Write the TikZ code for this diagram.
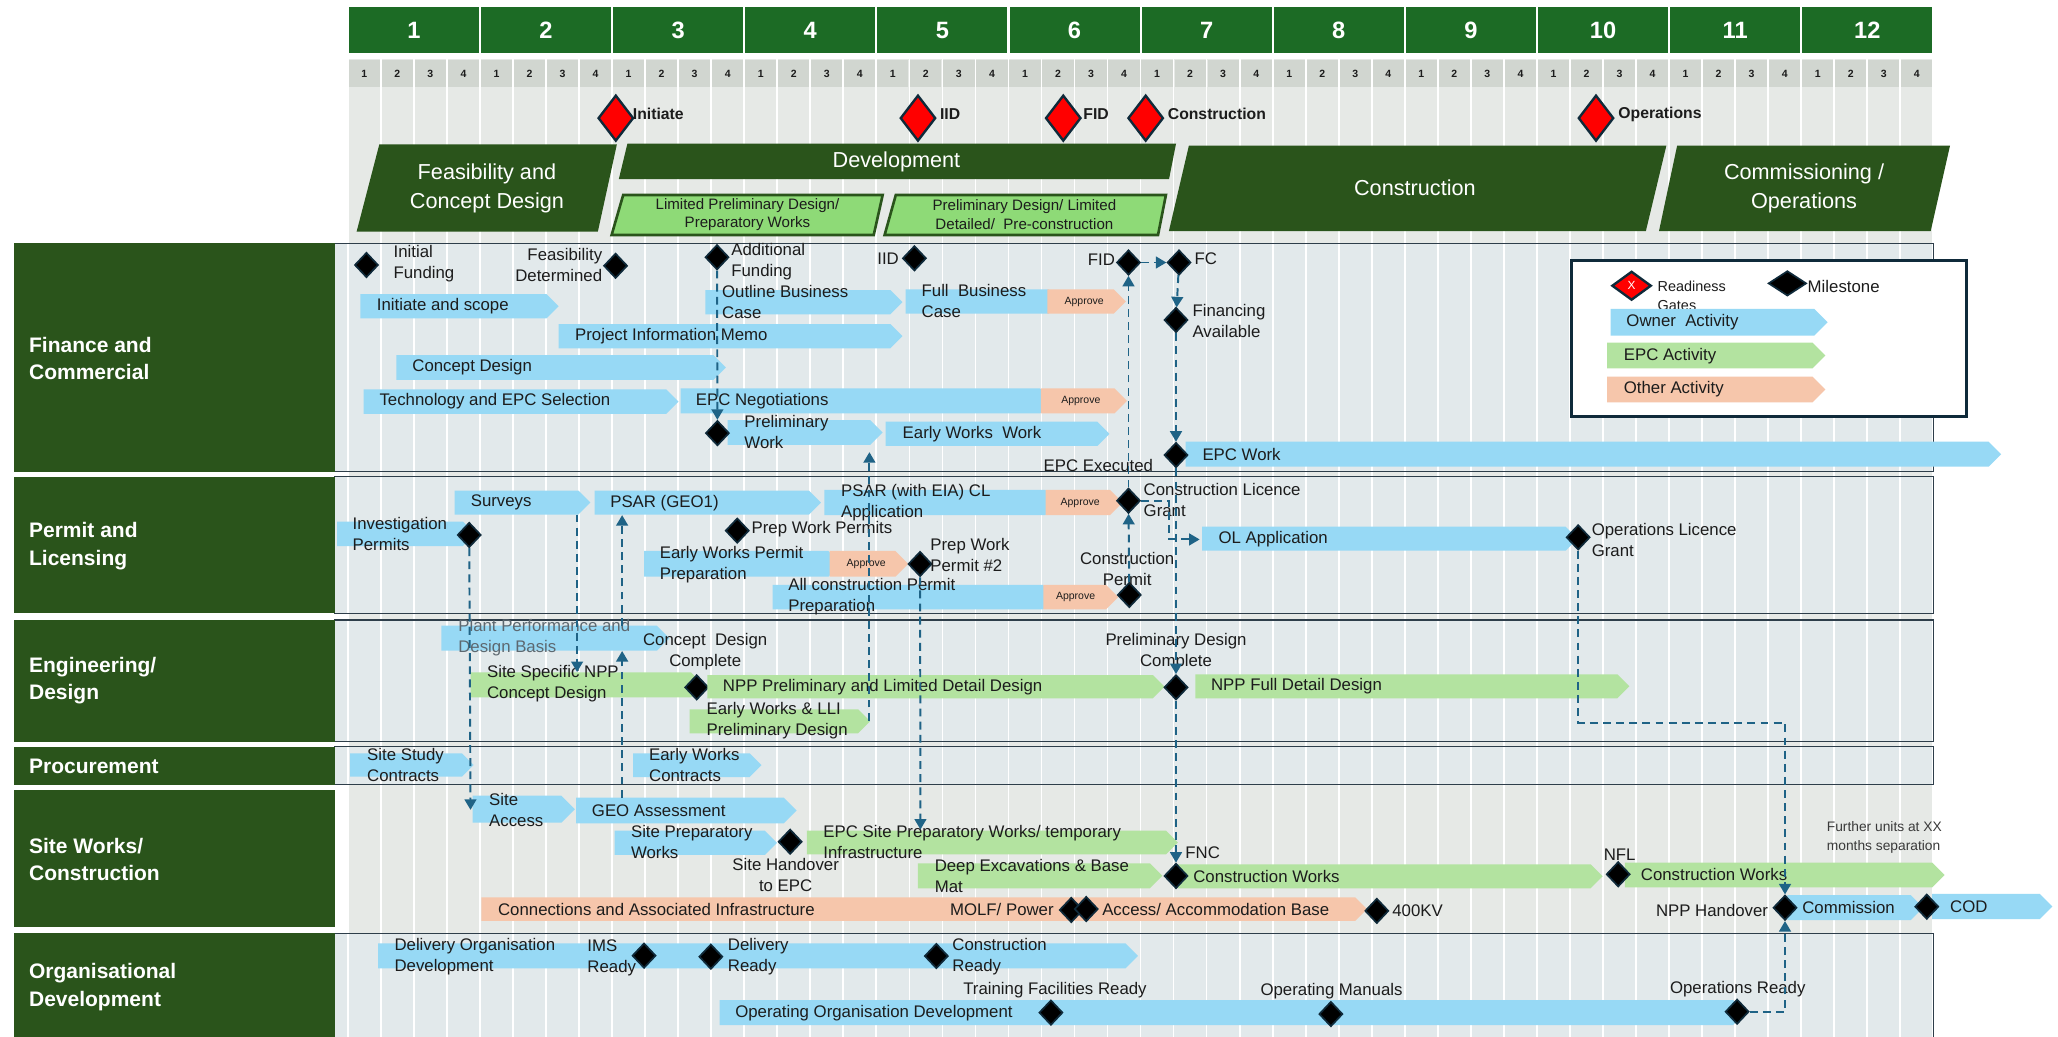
\documentclass[tikz,border=0pt]{standalone}
\usepackage{fontspec}
\setmainfont{Liberation Sans}
\usetikzlibrary{shapes.geometric,arrows.meta}
\definecolor{yeargreen}{HTML}{1C6B25}
\definecolor{phasegreen}{HTML}{2A541B}
\definecolor{subgreen}{HTML}{8EDA77}
\definecolor{qgrey}{HTML}{D1D6D0}
\definecolor{gridbg}{HTML}{E6E9E6}
\definecolor{panelbg}{HTML}{E2E9EB}
\definecolor{panelline}{HTML}{2E3E4A}
\definecolor{own}{HTML}{97D9F5}
\definecolor{epc}{HTML}{B3E3A0}
\definecolor{oth}{HTML}{F6C6AB}
\definecolor{connc}{HTML}{1F6386}
\definecolor{msb}{HTML}{0F2A3A}
\definecolor{txtc}{HTML}{1C1C1C}
\definecolor{greytxt}{HTML}{5D6870}
\definecolor{fugrey}{HTML}{3A3A3A}
\newcommand{\myfs}[2]{\fontsize{#1}{#2}\selectfont}
\newcommand{\actbar}[5]{\fill[#1] (#2,#3) -- ({#4-(#5-#3)/2},#3) -- (#4,{(#3+#5)/2}) -- ({#4-(#5-#3)/2},#5) -- (#2,#5) -- cycle;}
\begin{document}
\begin{tikzpicture}[x=1pt,y=-1pt,
  txt/.style={inner sep=0pt, font=\myfs{12.8}{16}, text=txtc, align=left, anchor=west},
  ctxt/.style={txt, align=center, anchor=center},
  rtxt/.style={txt, align=right, anchor=east},
  appr/.style={inner sep=0pt, font=\myfs{8}{10}, text=txtc},
  ms/.style={diamond, fill=black, draw=msb, line width=1.3pt, inner sep=0pt, minimum width=18pt, minimum height=19pt},
  gate/.style={diamond, fill=red, draw=msb, line width=1.8pt, inner sep=0pt, minimum width=27pt, minimum height=35pt},
  gatelbl/.style={inner sep=0pt, font=\myfs{12}{14}\bfseries, text=txtc, anchor=west},
  conn/.style={draw=connc, line width=1.5pt, dash pattern=on 6pt off 4pt, -{Triangle[length=8pt,width=9pt]}},
  rowlbl/.style={inner sep=0pt, font=\myfs{16}{21}\bfseries, text=white, align=left, anchor=west},
  phtxt/.style={inner sep=0pt, font=\myfs{16.5}{21.5}, text=white, align=center},
  subtxt/.style={inner sep=0pt, font=\myfs{11.5}{14}, text=txtc, align=center}
  ]
\useasboundingbox (0,0) rectangle (1568,790);
\fill[white] (0,0) rectangle (1568,790);
% grid background and panels
\fill[gridbg] (265,45) rectangle (1473,790);
\foreach \a/\b in {185.4/359.4, 363.2/467.3, 472.4/565, 569/598, 711/795} { \fill[panelbg] (255,\a) rectangle (1473,\b); }
\foreach \k in {0,...,48} { \draw[white, line width=1.3pt] ({265+\k*25.1667},45) -- ({265+\k*25.1667},790); }
\foreach \a/\b in {185.4/359.4, 363.2/467.3, 472.4/565, 569/598, 711/795} { \draw[panelline, line width=0.9pt] (255,\a) rectangle (1473,\b); }
% year header
\foreach \i in {1,...,12} {
  \fill[yeargreen] ({265+(\i-1)*100.667+0.8},5) rectangle ({265+\i*100.667-0.8},40.5);
  \node[font=\myfs{18}{20}\bfseries, text=white, inner sep=0pt] (y\i) at ({265+(\i-0.5)*100.667},23) {\i};
}
\foreach \i in {0,...,47} {
  \pgfmathtruncatemacro\qq{mod(\i,4)+1}
  \fill[qgrey] ({265+\i*25.1667+0.7},45.5) rectangle ({265+(\i+1)*25.1667-0.7},66.5);
  \node[font=\myfs{8}{9}\bfseries, text=txtc, inner sep=0pt] (q\i) at ({265+(\i+0.5)*25.1667},56) {\qq};
}
% gates
\node[gate] (gInit) at (469.2,90) {};
\node[gatelbl] (lInit) at (482,87) {Initiate};
\node[gate] (gIID) at (699.4,90) {};
\node[gatelbl] (lIID) at (716,87) {IID};
\node[gate] (gFID) at (810.1,90) {};
\node[gatelbl] (lFID) at (825.3,87) {FID};
\node[gate] (gCon) at (872.9,90) {};
\node[gatelbl] (lCon) at (889.6,87) {Construction};
\node[gate] (gOps) at (1216,90) {};
\node[gatelbl] (lOps) at (1232.9,87) {Operations};
% phases
\fill[phasegreen] (289,110) -- (470,110) -- (455.5,176.5) -- (271.7,176.5) -- cycle;
\node[phtxt] (phFeas) at (371,143.5) {Feasibility and\\Concept Design};
\fill[phasegreen] (478,109.5) -- (896,109.5) -- (890.7,136.4) -- (471.5,136.4) -- cycle;
\node[phtxt] (phDev) at (683,123) {Development};
\filldraw[fill=subgreen, draw=phasegreen, line width=2pt] (474.8,148.6) -- (672.5,148.6) -- (665.7,179) -- (466,179) -- cycle;
\node[subtxt] (phSub1) at (569.5,163.5) {Limited Preliminary Design/\\Preparatory Works};
\filldraw[fill=subgreen, draw=phasegreen, line width=2pt] (682.5,148.6) -- (888.3,148.6) -- (882.3,179) -- (674,179) -- cycle;
\node[subtxt] (phSub2) at (780.5,163.5) {Preliminary Design/ Limited\\Detailed/\ \ Pre-construction};
\fill[phasegreen] (905.8,111) -- (1269.6,111) -- (1254,176) -- (890.6,176) -- cycle;
\node[phtxt] (phCon) at (1078,143) {Construction};
\fill[phasegreen] (1277.8,111) -- (1485.7,111) -- (1471,176) -- (1264,176) -- cycle;
\node[phtxt] (phCom) at (1374.5,143.5) {Commissioning /\\Operations};
% row labels
\fill[phasegreen] (11,185.4) rectangle (255,359.4);
\node[rowlbl] (rFin) at (22,273) {Finance and\\Commercial};
\fill[phasegreen] (11,363.2) rectangle (255,467.3);
\node[rowlbl] (rPer) at (22,416) {Permit and\\Licensing};
\fill[phasegreen] (11,472.4) rectangle (255,565);
\node[rowlbl] (rEng) at (22,518.5) {Engineering/\\Design};
\fill[phasegreen] (11,569) rectangle (255,598);
\node[rowlbl] (rPro) at (22,584) {Procurement};
\fill[phasegreen] (11,602) rectangle (255,706);
\node[rowlbl] (rSite) at (22,654.7) {Site Works/\\Construction};
\fill[phasegreen] (11,711) rectangle (255,795);
\node[rowlbl] (rOrg) at (22,752) {Organisational\\Development};
% ---------------- Finance and Commercial
\actbar{own}{274.5}{224}{425.6}{242.5}
\node[txt] (tIS) at (287,233.3) {Initiate and scope};
\actbar{own}{537.5}{221}{687.6}{239.5}
\node[txt] (tOBC) at (550,230.2) {Outline Business\\Case};
\actbar{own}{690}{220.4}{808}{239}
\actbar{oth}{798}{220.4}{857.8}{239}
\node[txt] (tFBC) at (702,229.7) {Full\ \ Business\\Case};
\node[appr] (aFBC) at (826,229.7) {Approve};
\actbar{own}{425.6}{246.9}{687.6}{265.4}
\node[txt] (tPIM) at (438,256.2) {Project Information Memo};
\actbar{own}{302}{270.5}{553}{289.5}
\node[txt] (tCD) at (314,280) {Concept Design};
\actbar{own}{277}{296.6}{517}{315.4}
\node[txt] (tTES) at (289,306) {Technology and EPC Selection};
\actbar{own}{518.6}{295.9}{802}{315}
\actbar{oth}{793}{295.9}{858.7}{315}
\node[txt] (tEPCN) at (530,305.5) {EPC Negotiations};
\node[appr] (aEPCN) at (823.5,305.5) {Approve};
\actbar{own}{554.4}{320}{672.5}{339}
\node[txt] (tPW) at (567,329.5) {Preliminary\\Work};
\actbar{own}{674.8}{321.3}{845.3}{339.8}
\node[txt] (tEWW) at (687.6,330.5) {Early Works\ \ Work};
\actbar{own}{903.4}{336.5}{1524.7}{355.6}
\node[txt] (tEPCW) at (916,346) {EPC Work};
\node[ms] (mIF) at (279.2,201.9) {};
\node[txt] (lIF) at (299.7,200.6) {Initial\\Funding};
\node[ms] (mFD) at (469,202.5) {};
\node[rtxt] (lFD) at (459,201.9) {Feasibility\\Determined};
\node[ms] (mAF) at (546.3,196) {};
\node[txt] (lAF) at (557,199.7) {Additional\\Funding};
\node[ms] (mIID) at (696.7,196.8) {};
\node[rtxt] (lIID) at (685,196.8) {IID};
\node[ms] (mFID) at (859.8,200) {};
\node[rtxt] (lFID) at (849.7,197.6) {FID};
\node[ms] (mFC) at (898.3,200) {};
\node[txt] (lFC) at (910,196.8) {FC};
\node[ms] (mFA) at (896,243.8) {};
\node[txt] (lFA) at (908.4,244.9) {Financing\\Available};
\node[ms] (mPW) at (546.6,330) {};
\node[ms] (mEPC) at (896,346.7) {};
\node[txt] (lEPC) at (795,354.3) {EPC Executed};
% ---------------- Permit and Licensing
\actbar{own}{256.8}{397.5}{362}{416}
\node[txt] (tIP) at (268.5,406.6) {Investigation\\Permits};
\node[ms] (mIP) at (357.5,407.6) {};
\actbar{own}{346.4}{373.8}{449.8}{392}
\node[txt] (tSv) at (358.5,383) {Surveys};
\actbar{own}{453}{373.8}{625.5}{392}
\node[txt] (tPG) at (464.8,383) {PSAR (GEO1)};
\actbar{own}{628}{373.3}{806}{392.4}
\actbar{oth}{796.7}{373.3}{855.4}{392.4}
\node[txt] (tPSAR) at (640.6,382.6) {PSAR (with EIA) CL\\Application};
\node[appr] (aPSAR) at (823,383.3) {Approve};
\node[ms] (mCLG) at (859.8,381.5) {};
\node[txt] (lCLG) at (871.2,381) {Construction Licence\\Grant};
\node[ms] (mPWP) at (561.7,404.3) {};
\node[txt] (lPWP) at (572.5,403.3) {Prep Work Permits};
\actbar{own}{490.7}{419.8}{641}{439.4}
\actbar{oth}{632}{419.8}{692}{439.4}
\node[txt] (tEWP) at (502.5,430) {Early Works Permit\\Preparation};
\node[appr] (aEWP) at (660,430) {Approve};
\node[ms] (mPW2) at (701,429.7) {};
\node[txt] (lPW2) at (708.7,423.2) {Prep Work\\Permit \#2};
\actbar{own}{588.6}{445.7}{804}{464.2}
\actbar{oth}{795}{445.7}{852}{464.2}
\node[txt] (tACP) at (600.4,454.6) {All construction Permit\\Preparation};
\node[appr] (aACP) at (819.5,454.5) {Approve};
\node[ms] (mCP) at (860.4,453.3) {};
\node[ctxt] (lCP) at (858.8,433.3) {Construction\\Permit};
\actbar{own}{915.8}{401.3}{1202}{419.6}
\node[txt] (tOL) at (928.2,410.5) {OL Application};
\node[ms] (mOLG) at (1202.4,409.4) {};
\node[txt] (lOLG) at (1212.6,411.2) {Operations Licence\\Grant};
% ---------------- Engineering / Design
\actbar{own}{336.3}{476.7}{510}{495.8}
\node[txt, text=greytxt] (tPP) at (349,486.1) {Plant Performance and\\Design Basis};
\actbar{epc}{358.5}{512.2}{536}{531.3}
\node[txt] (tSS) at (370.9,521.2) {Site Specific NPP\\Concept Design};
\node[ms] (mCDC) at (530.8,523.7) {};
\node[ctxt] (lCDC) at (537.3,496.8) {Concept\ \ Design\\Complete};
\actbar{epc}{539}{514.3}{887.3}{532}
\node[txt] (tNPL) at (550.6,523.2) {NPP Preliminary and Limited Detail Design};
\node[ms] (mPDC) at (896,523.7) {};
\node[ctxt] (lPDC) at (896,496.3) {Preliminary Design\\Complete};
\actbar{epc}{910.8}{513.8}{1241.4}{532}
\node[txt] (tNFD) at (922.5,523) {NPP Full Detail Design};
\actbar{epc}{525.5}{540.4}{663}{558.7}
\node[txt] (tEWL) at (538.2,549) {Early Works \& LLI\\Preliminary Design};
% ---------------- Procurement
\actbar{own}{266.8}{574}{360.8}{591.7}
\node[txt] (tSSC) at (279.6,582.8) {Site Study\\Contracts};
\actbar{own}{482.3}{574}{580.2}{592}
\node[txt] (tEWC) at (494.4,583) {Early Works\\Contracts};
% ---------------- Site Works / Construction
\actbar{own}{360.1}{606.2}{438}{626.8}
\node[txt] (tSA) at (372.5,617) {Site\\Access};
\actbar{own}{439}{607.7}{607}{627.3}
\node[txt] (tGEO) at (450.8,617.5) {GEO Assessment};
\actbar{own}{468.2}{632.9}{592}{651.4}
\node[txt] (tSPW) at (480.6,641.6) {Site Preparatory\\Works};
\node[ms] (mSH) at (602,641.3) {};
\node[ctxt] (lSH) at (598.6,666.4) {Site Handover\\to EPC};
\actbar{epc}{614.8}{632.9}{897.4}{650.9}
\node[txt] (tEPCS) at (627.2,641.6) {EPC Site Preparatory Works/ temporary\\Infrastructure};
\actbar{epc}{699.3}{657.8}{885.6}{676.8}
\node[txt] (tDE) at (712,667.2) {Deep Excavations \& Base\\Mat};
\actbar{epc}{897.5}{658.5}{1221}{676.8}
\node[ms] (mFNC) at (896,667.4) {};
\node[txt] (lFNC) at (903,650) {FNC};
\node[txt] (tCW1) at (909,667.5) {Construction Works};
\actbar{epc}{1238}{657.3}{1481.6}{676}
\node[ms] (mNFL) at (1232.9,666.1) {};
\node[ctxt] (lNFL) at (1234,651.4) {NFL};
\node[txt] (tCW2) at (1250,666.6) {Construction Works};
\node[txt, font=\myfs{10.5}{14.5}, text=fugrey] (tFU) at (1391.7,638.4) {Further units at XX\\months separation};
\actbar{oth}{366.8}{683.7}{1041.5}{701.7}
\node[txt] (tCAI) at (379.3,692.7) {Connections and Associated Infrastructure};
\node[rtxt] (lMOLF) at (803,693.3) {MOLF/ Power};
\node[ms] (mMOLF1) at (816.2,693.3) {};
\node[ms] (mMOLF2) at (827.6,692.6) {};
\node[txt] (lAAB) at (839.6,692.6) {Access/ Accommodation Base};
\node[ms] (m400) at (1049,694) {};
\node[txt] (l400) at (1060.6,694) {400KV};
\actbar{own}{1361.8}{681.9}{1465.3}{701}
\node[txt] (tCom) at (1373,691.5) {Commission};
\actbar{own}{1472}{681}{1563.7}{700.2}
\node[txt] (tCOD) at (1485.6,690.6) {COD};
\node[ms] (mCOD) at (1468,690.8) {};
\node[ms] (mNPPH) at (1360,691.6) {};
\node[rtxt] (lNPPH) at (1347.3,693.9) {NPP Handover};
% ---------------- Organisational Development
\actbar{own}{288}{718.7}{867}{737.8}
\node[txt] (tDOD) at (300.4,728.5) {Delivery Organisation\\Development};
\node[ms] (mIMS) at (490.7,728.1) {};
\node[txt] (lIMS) at (447.4,730) {IMS\\Ready};
\node[ms] (mDR) at (541.6,728.9) {};
\node[txt] (lDR) at (554.4,728.8) {Delivery\\Ready};
\node[ms] (mCR) at (713.4,728.4) {};
\node[txt] (lCR) at (725.5,728.8) {Construction\\Ready};
\actbar{own}{548.3}{761.9}{1330}{781}
\node[txt] (tOOD) at (560,772) {Operating Organisation Development};
\node[ms] (mTFR) at (800.7,771.5) {};
\node[ctxt] (lTFR) at (803.8,754.3) {Training Facilities Ready};
\node[ms] (mOM) at (1014,772.6) {};
\node[ctxt] (lOM) at (1014.5,754.8) {Operating Manuals};
\node[ms] (mOR) at (1323.5,770.8) {};
\node[ctxt] (lOR) at (1324,753.5) {Operations Ready};
% ---------------- Legend
\filldraw[fill=white, draw=msb, line width=2.5pt] (1197.3,198.6) rectangle (1498.2,317.5);
\node[diamond, fill=red, draw=msb, line width=1.8pt, inner sep=0pt, minimum width=30pt, minimum height=22pt, text=white, font=\myfs{9}{9}] (lgGate) at (1243.1,217.7) {X};
\node[txt, font=\myfs{11}{14.5}] (lgGateT) at (1262.8,225.2) {Readiness\\Gates};
\node[ms, minimum width=29pt, minimum height=19pt] (lgMs) at (1361.8,215.9) {};
\node[txt] (lgMsT) at (1377.1,218.4) {Milestone};
\actbar{own}{1227.2}{235.4}{1392.4}{255.7}
\node[txt] (lgOwn) at (1239,245.5) {Owner\ \ Activity};
\actbar{epc}{1224.5}{261.1}{1390.7}{280.6}
\node[txt] (lgEpc) at (1237,271) {EPC Activity};
\actbar{oth}{1224.5}{287}{1390.7}{306.5}
\node[txt] (lgOth) at (1237,296.7) {Other Activity};
% ---------------- Connectors
\coordinate (cPWbot) at (662.4,344.5);
\coordinate (cLLItip) at (662.4,549);
\draw[conn] (cLLItip) -- (cPWbot);
\draw[conn] (mFID) -- (mFC);
\draw[conn] (mAF) -- (mPW);
\draw[conn] (mFC) -- (mFA);
\draw[conn] (mFA) -- (mEPC);
\draw[conn] (mCLG) -- (mFID);
\draw[conn] (mCP) -- (mCLG);
\draw[conn] (mEPC) -- (mPDC);
\draw[conn] (mPDC) -- (mFNC);
\coordinate (cCLGr) at (891,381.5);
\coordinate (cOLl) at (914,411);
\draw[conn] (mCLG.east) -- (cCLGr) |- (cOLl);
\coordinate (cSvB) at (439.7,392);
\coordinate (cSSt) at (439.7,512);
\draw[conn] (cSvB) -- (cSSt);
\coordinate (cGEOt) at (474,607.7);
\coordinate (cPPb) at (474,496);
\draw[conn] (cGEOt) -- (cPPb);
\coordinate (cPPt) at (474,476.7);
\coordinate (cPGb) at (474,392.5);
\draw[conn] (cPPt) -- (cPGb);
\coordinate (cSAt) at (358.5,617);
\draw[conn] (mIP) -- (cSAt);
\coordinate (cEPCSt) at (701.3,632);
\draw[conn] (mPW2) -- (cEPCSt);
\coordinate (cOLGa) at (1202.4,550.6);
\coordinate (cOLGb) at (1360,550.6);
\draw[conn] (mOLG) -- (cOLGa) -- (cOLGb) -- (mNPPH);
\coordinate (cORa) at (1360,770.8);
\draw[conn] (mOR) -- (cORa) -- (mNPPH);
\end{tikzpicture}
\end{document}
